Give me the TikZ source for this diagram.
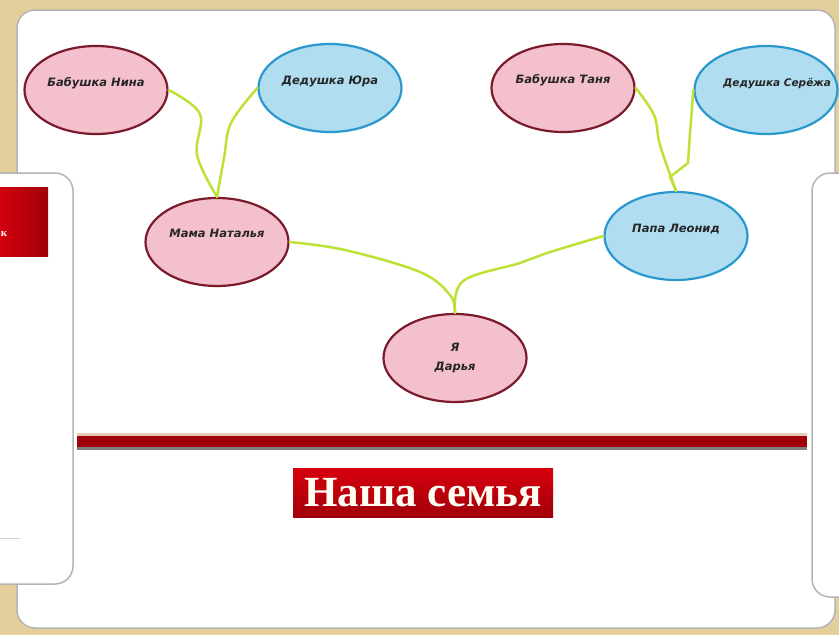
\documentclass[tikz,border=0pt]{standalone}
\usepackage{fontspec}
\setmainfont{Liberation Serif}
\newfontfamily\bubblefont{DejaVu Sans}
\usetikzlibrary{shapes.geometric}
\definecolor{bgtan}{HTML}{E4CE9C}
\definecolor{panelgray}{HTML}{B4B4B4}
\definecolor{pinkfill}{HTML}{F4C0CE}
\definecolor{pinkdraw}{HTML}{7A1B2A}
\definecolor{bluefill}{HTML}{B0DDF0}
\definecolor{bluedraw}{HTML}{2A98CC}
\definecolor{linkgreen}{HTML}{BCE236}
\definecolor{namecol}{HTML}{262626}
\definecolor{redtop}{HTML}{D8000E}
\definecolor{redbot}{HTML}{A0000A}
\tikzset{every label/.style={font=\bubblefont\bfseries\itshape\fontsize{11.5}{13}\selectfont, text=namecol}}
\tikzstyle{panel} = [draw=panelgray, line width=1.5pt, fill=white, rounded corners=18pt]
\tikzstyle{bubble} = [ellipse, line width=2.2pt, minimum width=143pt, minimum height=88pt, inner sep=0pt]
\tikzstyle{pinkbubble} = [bubble, draw=pinkdraw, fill=pinkfill]
\tikzstyle{bluebubble} = [bubble, draw=bluedraw, fill=bluefill]
\tikzstyle{link} = [draw=linkgreen, line width=2.5pt, line join=round, line cap=round]
\tikzstyle{titlebox} = [rectangle, top color=redtop, bottom color=redbot, minimum width=260pt, minimum height=49pt, inner sep=0pt, text=white!95!yellow, font=\bfseries\fontsize{43}{44}\selectfont]

\begin{document}
\begin{tikzpicture}[x=1pt, y=-1pt]

    \useasboundingbox (0,0) rectangle (839,635);
    \fill[bgtan] (0,0) rectangle (839,635);

    \path[panel] (17,10) rectangle (835,628);
    \path[panel] (-20,173) rectangle (73,584);
    \path[panel] (812,173) rectangle (870,597);
    \fill[left color=redtop, right color=redbot] (-5,187) rectangle (48,256);
    \node[text=white, font=\bfseries\fontsize{11}{12}\selectfont] (frag) at (4,234) {к};
    \draw[panelgray!60, line width=1pt] (0,538) -- (20,538);

    \fill[brown!40] (77,433) rectangle (807,436);
    \fill[redbot] (77,436) rectangle (807,447);
    \fill[gray] (77,447) rectangle (807,450);

    \node[titlebox] (title) at (423,492.5) {Наша семья};

    \node[pinkbubble, label={[yshift=7pt]center:Бабушка Нина}] (nina) at (96,90) {};
    \node[bluebubble, label={[yshift=7pt]center:Дедушка Юра}] (yura) at (330,88) {};
    \node[pinkbubble, label={[yshift=8pt]center:Бабушка Таня}] (tanya) at (563,88) {};
    \node[bluebubble, label={[xshift=11pt, yshift=6pt, font=\bubblefont\bfseries\itshape\fontsize{10.5}{12}\selectfont]center:Дедушка Серёжа}] (seryozha) at (766,90) {};
    \node[pinkbubble, label={[yshift=9pt]center:Мама Наталья}] (natalya) at (217,242) {};
    \node[bluebubble, label={[yshift=7pt]center:Папа Леонид}] (leonid) at (676,236) {};
    \node[pinkbubble, label={[align=center]center:Я\\[6pt]Дарья}] (darya) at (455,358) {};

    \draw[link] plot[smooth, tension=0.6] coordinates {(nina.east) (200,114) (197,155) (natalya.north)};
    \draw[link] plot[smooth, tension=0.6] coordinates {(yura.west) (231,123) (224,158) (natalya.north)};
    \draw[link] plot[smooth, tension=0.6] coordinates {(tanya.east) (654,115) (660,145) (leonid.north)};
    \draw[link] (seryozha.west) -- (690,133) -- (688,163) -- (670,177) -- (leonid.north);
    \draw[link] plot[smooth, tension=0.6] coordinates {(natalya.east) (345,250) (420,272) (450,295) (darya.north)};
    \draw[link] plot[smooth, tension=0.6] coordinates {(leonid.west) (547,253) (520,263) (463,281) (darya.north)};

\end{tikzpicture}
\end{document}
